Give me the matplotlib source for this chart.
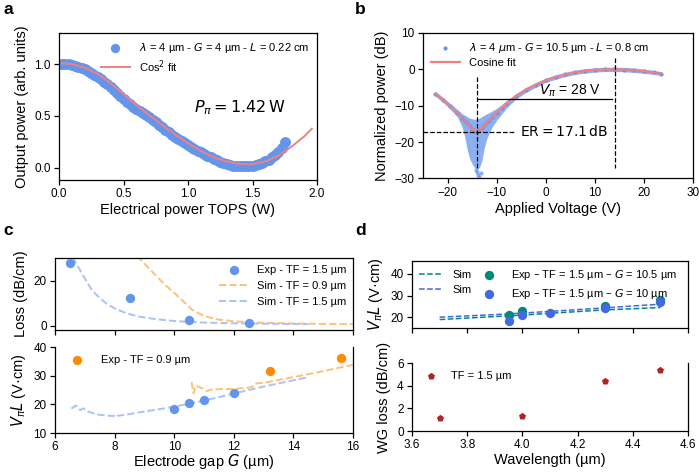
import numpy as np
import matplotlib
matplotlib.use("Agg")
import matplotlib.pyplot as plt

plt.rcParams['font.family'] = ['Liberation Sans', 'DejaVu Sans']
plt.rcParams['mathtext.fontset'] = 'dejavusans'
plt.rcParams['font.size'] = 8.5
plt.rcParams['axes.linewidth'] = 0.9

BLUE = '#6495ED'
RED = '#F08080'
ORANGE = '#FF8C00'
LORANGE = '#FFC078'
LBLUE = '#A9C3F4'
TEAL = '#00897B'
RBLUE = '#4169E1'
BROWN = '#B22222'

# ---- panel a : TOPS sweep
a_x = [0.0, 0.025, 0.05, 0.075, 0.1, 0.125, 0.15, 0.175, 0.2, 0.225, 0.25, 0.275, 0.3, 0.325,
       0.35, 0.375, 0.4, 0.425, 0.45, 0.475, 0.5, 0.525, 0.55, 0.575, 0.6, 0.625, 0.65, 0.675,
       0.7, 0.725, 0.75, 0.775, 0.8, 0.825, 0.85, 0.875, 0.9, 0.925, 0.95, 0.975, 1.0, 1.025,
       1.05, 1.075, 1.1, 1.125, 1.15, 1.175, 1.2, 1.225, 1.25, 1.275, 1.3, 1.325, 1.35, 1.375,
       1.4, 1.425, 1.45, 1.475, 1.5, 1.525, 1.55, 1.575, 1.6, 1.625, 1.65, 1.675, 1.7, 1.725, 1.75]
a_y = [1.0, 1.0, 1.0, 1.0, 0.99, 0.985, 0.975, 0.962, 0.948, 0.932, 0.915, 0.895, 0.875, 0.853,
       0.83, 0.805, 0.78, 0.752, 0.725, 0.695, 0.665, 0.635, 0.61, 0.585, 0.565, 0.545, 0.525, 0.505,
       0.485, 0.462, 0.44, 0.415, 0.39, 0.365, 0.34, 0.318, 0.297, 0.277, 0.255, 0.235, 0.215, 0.197,
       0.18, 0.163, 0.148, 0.13, 0.115, 0.1, 0.085, 0.07, 0.056, 0.045, 0.035, 0.026, 0.019, 0.014,
       0.012, 0.011, 0.012, 0.015, 0.02, 0.026, 0.034, 0.045, 0.06, 0.078, 0.098, 0.12, 0.15, 0.19, 0.245]
afit_x = [0.0, 0.1, 0.2, 0.3, 0.4, 0.5, 0.6, 0.7, 0.8, 0.9, 1.0, 1.1, 1.2, 1.3, 1.4, 1.5, 1.6,
          1.7, 1.8, 1.9, 1.96]
afit_y = [1.01, 1.0, 0.965, 0.905, 0.815, 0.71, 0.605, 0.505, 0.41, 0.32, 0.235, 0.16, 0.1,
          0.058, 0.035, 0.032, 0.058, 0.115, 0.2, 0.3, 0.375]

# ---- panel b : voltage sweep
b_x = [-22.5, -21, -19.5, -18, -17, -16.5, -16, -15.5, -15, -14.5, -14, -13.5, -13, -12.5, -12,
       -11.5, -11, -10, -9, -8, -6, -4, -2, 0, 2, 4, 6, 8, 10, 12, 14, 16, 18, 20, 22, 23.5]
b_fit = [-6.7, -8.3, -10.1, -12.0, -13.4, -14.1, -14.8, -15.6, -16.3, -16.9, -17.1, -16.8, -16.1,
         -15.4, -14.6, -13.9, -13.2, -11.9, -10.6, -9.4, -7.3, -5.6, -4.2, -3.0, -2.1, -1.4,
         -0.8, -0.4, -0.15, 0.0, 0.0, -0.05, -0.25, -0.5, -0.85, -1.15]
b_hi = [-6.0, -7.6, -9.3, -11.0, -12.2, -12.6, -13.0, -13.4, -13.6, -13.7, -13.6, -13.4, -13.0,
        -12.6, -12.2, -11.9, -11.5, -10.7, -9.7, -8.6, -6.6, -4.9, -3.6, -2.4, -1.5, -0.8,
        -0.2, 0.2, 0.45, 0.6, 0.6, 0.55, 0.35, 0.1, -0.3, -0.6]
b_lo = [-7.4, -9.0, -10.9, -13.0, -16.0, -18.5, -22.0, -24.5, -26.0, -27.0, -27.5, -27.0, -25.0,
        -21.5, -19.0, -17.5, -16.0, -14.0, -12.3, -10.6, -8.1, -6.3, -4.9, -3.6, -2.7, -2.0,
        -1.4, -1.0, -0.75, -0.6, -0.6, -0.65, -0.85, -1.1, -1.4, -1.7]
b_stray_x = [-14.3, -14.0, -13.8, -13.5, -13.2]
b_stray_y = [-27.8, -28.3, -29.0, -29.6, -28.6]

# ---- panel c : electrode gap
c_gap_loss = [6.5, 8.5, 10.5, 12.5]
c_loss = [27.9, 12.3, 2.4, 0.9]
c_s15_x = [6.6, 6.8, 7.0, 7.2, 7.4, 7.7, 8.0, 8.4, 8.8, 9.4, 10.0, 10.5, 11.0, 12.0, 13.0, 14.5]
c_s15_y = [30.5, 25.5, 21.0, 16.5, 13.5, 10.0, 7.6, 5.4, 4.0, 2.8, 2.0, 1.6, 1.3, 1.0, 0.8, 0.6]
c_s09_x = [8.75, 9.0, 9.4, 9.7, 10.0, 10.3, 10.6, 11.0, 11.5, 12.0, 12.5, 13.0, 14.0, 15.0, 16.0]
c_s09_y = [31.0, 27.5, 22.0, 18.0, 14.5, 10.8, 7.0, 4.2, 2.6, 1.9, 1.5, 1.2, 0.9, 0.7, 0.6]

c_gap15 = [10.0, 10.5, 11.0, 12.0]
c_vpl15 = [18.5, 20.5, 21.4, 24.0]
c_gap09 = [13.2, 15.6]
c_vpl09 = [31.6, 36.2]
c_v15_x = [6.55, 6.7, 6.85, 6.95, 7.1, 7.4, 7.7, 8.0, 8.05, 8.1, 8.5, 9.0, 9.5, 10.0, 10.5,
           11.0, 11.5, 12.0, 12.5, 13.0, 13.5, 14.0, 14.5]
c_v15_y = [18.5, 19.6, 18.0, 18.6, 17.5, 16.5, 16.1, 15.9, 15.5, 16.0, 16.6, 17.5, 18.3, 19.2,
           20.2, 21.3, 22.5, 23.8, 25.0, 26.2, 27.3, 28.4, 29.5]
c_v09_x = [10.58, 10.65, 10.72, 10.85, 11.0, 11.1, 11.2, 11.5, 12.0, 12.5, 12.65, 12.75, 13.0,
           13.5, 14.0, 14.5, 15.0, 15.5, 16.0]
c_v09_y = [27.8, 23.8, 26.5, 26.0, 25.3, 24.6, 25.0, 25.3, 25.4, 25.8, 26.3, 27.3, 27.5, 28.5,
           29.5, 30.5, 31.6, 32.7, 33.8]

# ---- panel d : wavelength
d_wl_g105 = [3.95, 4.0, 4.3, 4.5]
d_vpl_g105 = [21.2, 22.7, 25.3, 28.1]
d_wl_g10 = [3.95, 4.0, 4.1, 4.3, 4.5]
d_vpl_g10 = [18.4, 20.8, 21.9, 24.2, 27.0]
d_sim_wl = [3.7, 3.8, 3.9, 4.0, 4.1, 4.2, 4.3, 4.4, 4.5]
d_sim_g105 = [18.9, 19.6, 20.3, 21.0, 21.8, 22.6, 23.4, 23.9, 24.5]
d_sim_g10 = [20.0, 20.6, 21.2, 21.9, 22.7, 23.5, 24.3, 25.2, 26.0]
d_wl_loss = [3.7, 4.0, 4.3, 4.5]
d_wg_loss = [1.12, 1.33, 4.43, 5.35]

W, H = 699, 472


def box(l, t, r, b):
    return [l / W, 1 - b / H, (r - l) / W, (b - t) / H]


fig = plt.figure(figsize=(W / 100, H / 100), dpi=100)

# ---------------- a
ax = fig.add_axes(box(59, 33, 317, 180))
ax.scatter(a_x, a_y, s=62, color=BLUE, lw=0,
           label='$\\lambda$ = 4 µm - $G$ = 4 µm - $L$ = 0.22 cm')
ax.plot(afit_x, afit_y, color=RED, lw=1.4, label='Cos$^2$ fit')
ax.set_xlim(0, 2)
ax.set_ylim(-0.12, 1.3)
ax.set_xticks([0, 0.5, 1.0, 1.5, 2.0])
ax.set_yticks([0, 0.5, 1.0])
ax.set_xlabel('Electrical power TOPS (W)', fontsize=10.5, labelpad=2)
ax.set_ylabel('Output power (arb. units)', fontsize=10.5)
ax.text(1.05, 0.58, '$P_\\pi = 1.42\\,\\mathrm{W}$', fontsize=11.5, va='center')
ax.legend(loc='upper right', frameon=False, fontsize=8, handlelength=2.6, markerscale=0.85,
          borderaxespad=0.3, labelspacing=0.3)

# ---------------- b
ax = fig.add_axes(box(423, 33, 693, 178.5))
ax.fill_between(b_x, b_lo, b_hi, color=BLUE, alpha=0.75, lw=0)
ax.scatter(b_x, b_fit, s=9, color=BLUE, lw=0,
           label='$\\lambda$ = 4 $\\mu$m - $G$ = 10.5 µm - $L$ = 0.8 cm')
ax.scatter(b_stray_x, b_stray_y, s=9, color=BLUE, lw=0, alpha=0.75)
ax.plot(b_x, b_fit, color=RED, lw=1.6, label='Cosine fit')
ax.plot([-14, -14], [-2, -27], 'k--', lw=0.9)
ax.plot([14.2, 14.2], [3.2, -27], 'k--', lw=0.9)
ax.plot([-25, -6.3], [-17.1, -17.1], 'k--', lw=0.9)
ax.plot([-13.7, 13.6], [-8.1, -8.1], 'k-', lw=0.9)
ax.text(5.0, -5.8, '$V_\\pi$ = 28 V', fontsize=10, ha='center', va='center')
ax.text(-5.3, -17.1, '$\\mathrm{ER} = 17.1\\,\\mathrm{dB}$', fontsize=10, va='center')
ax.set_xlim(-25, 30)
ax.set_ylim(-30, 10)
ax.set_yticks([-30, -20, -10, 0, 10])
ax.set_xlabel('Applied Voltage (V)', fontsize=10.5, labelpad=2)
ax.set_ylabel('Normalized power (dB)', fontsize=10.5)
ax.legend(loc='upper left', frameon=False, fontsize=8, handlelength=2.6,
          borderaxespad=0.3, labelspacing=0.3)

# ---------------- c top
ax = fig.add_axes(box(55, 258, 353, 330))
ax.scatter(c_gap_loss, c_loss, s=45, color=BLUE, lw=0, label='Exp - TF = 1.5 µm', zorder=3)
ax.plot(c_s09_x, c_s09_y, '--', color=LORANGE, lw=1.4, label='Sim - TF = 0.9 µm')
ax.plot(c_s15_x, c_s15_y, '--', color=LBLUE, lw=1.4, label='Sim - TF = 1.5 µm')
ax.set_xlim(6, 16)
ax.set_ylim(-2, 30)
ax.set_xticks([6, 8, 10, 12, 14, 16])
ax.set_xticklabels([])
ax.set_yticks([0, 20])
ax.set_ylabel('Loss (dB/cm)', fontsize=10.5)
ax.legend(loc='upper right', frameon=False, fontsize=8, handlelength=2.6,
          borderaxespad=0.2, labelspacing=0.55)

# ---------------- c bottom
ax = fig.add_axes(box(55, 347, 353, 433))
ax.plot(c_v09_x, c_v09_y, '--', color=LORANGE, lw=1.4)
ax.plot(c_v15_x, c_v15_y, '--', color=LBLUE, lw=1.4)
ax.scatter(c_gap15, c_vpl15, s=45, color=BLUE, lw=0, zorder=3)
ax.scatter(c_gap09, c_vpl09, s=45, color=ORANGE, lw=0, zorder=3, label='Exp - TF = 0.9 µm')
ax.set_xlim(6, 16)
ax.set_ylim(10, 40)
ax.set_xticks([6, 8, 10, 12, 14, 16])
ax.set_yticks([10, 20, 30, 40])
ax.spines['top'].set_visible(False)
ax.set_xlabel('Electrode gap $G$ (µm)', fontsize=10.5, labelpad=-1)
ax.set_ylabel('$V_\\pi L$ (V·cm)', fontsize=10.5)
ax.legend(loc='upper left', frameon=False, fontsize=8, handlelength=2.6,
          borderaxespad=0.3)

# ---------------- d top
ax = fig.add_axes(box(412, 261, 688, 328))
h1, = ax.plot(d_sim_wl, d_sim_g105, '--', color=TEAL, lw=1.1)
h2, = ax.plot(d_sim_wl, d_sim_g10, '--', color=RBLUE, lw=1.1)
h3 = ax.scatter(d_wl_g105, d_vpl_g105, s=45, color=TEAL, lw=0, zorder=3)
h4 = ax.scatter(d_wl_g10, d_vpl_g10, s=45, color=RBLUE, lw=0, zorder=3)
ax.set_xlim(3.6, 4.6)
ax.set_ylim(15, 46)
ax.set_xticks([3.6, 3.8, 4.0, 4.2, 4.4, 4.6])
ax.set_xticklabels([])
ax.set_yticks([20, 30, 40])
ax.set_ylabel('$V_\\pi L$ (V·cm)', fontsize=10.5)
ax.legend([h1, h2, h3, h4], ['Sim', 'Sim',
                             'Exp – TF = 1.5 µm – $G$ = 10.5 µm',
                             'Exp – TF = 1.5 µm – $G$ = 10 µm'],
          ncol=2, loc='upper left', frameon=False, fontsize=8, handlelength=2.0,
          handletextpad=1.0, columnspacing=0.6, borderaxespad=0.2, labelspacing=0.5)

# ---------------- d bottom
ax = fig.add_axes(box(412, 363, 688, 431))
ax.scatter(d_wl_loss, d_wg_loss, s=28, marker='p', color=BROWN, lw=0, label='TF = 1.5 µm')
ax.set_xlim(3.6, 4.6)
ax.set_ylim(0, 6)
ax.set_xticks([3.6, 3.8, 4.0, 4.2, 4.4, 4.6])
ax.set_yticks([0, 2, 4, 6])
ax.spines['top'].set_visible(False)
ax.set_xlabel('Wavelength (µm)', fontsize=10.5, labelpad=1)
ax.set_ylabel('WG loss (dB/cm)', fontsize=10.5)
ax.legend(loc='upper left', frameon=False, fontsize=8, borderaxespad=0.3)

for lab, x, y in [('a', 8, 10), ('b', 360, 10), ('c', 8, 230), ('d', 361, 230)]:
    fig.text(x / W, 1 - y / H, lab, fontsize=12.5, fontweight='bold', ha='center', va='center')

for a in fig.axes:
    a.tick_params(length=3.5, width=0.9, labelsize=8.5, pad=2.5)

fig.savefig('out.png', dpi=100)
